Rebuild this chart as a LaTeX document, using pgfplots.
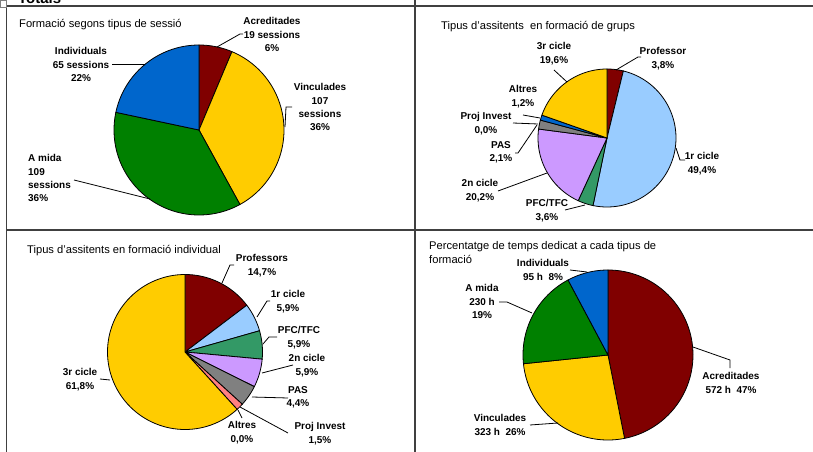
\documentclass[border=0pt]{standalone}
\usepackage{pgfplots}
\pgfplotsset{compat=1.18}
\usepackage{fontspec}
\setmainfont{Liberation Sans}

\definecolor{cRed}{HTML}{800000}
\definecolor{cYel}{HTML}{FFCC00}
\definecolor{cGrn}{HTML}{008000}
\definecolor{cBlu}{HTML}{0066CC}
\definecolor{cLBl}{HTML}{99CCFF}
\definecolor{cSea}{HTML}{339966}
\definecolor{cLav}{HTML}{CC99FF}
\definecolor{cGry}{HTML}{808080}
\definecolor{cSal}{HTML}{FF8080}
\definecolor{frame}{HTML}{404040}

% slices clockwise from 12 o'clock; #1 = total, #2 = value/colour list
\newcommand\pieslices[2]{%
  \xdef\pcum{0}%
  \foreach \v/\c in {#2} {%
    \ifdim\v pt>0pt
      \pgfmathsetmacro\lo{90-(\pcum+\v)/#1*360}%
      \pgfmathsetmacro\hi{90-\pcum/#1*360}%
      \edef\temp{\noexpand\addplot[fill=\c, draw=black, line width=0.8bp,
        domain=\lo:\hi, samples=80, variable=\noexpand\t]
        ({cos(\noexpand\t)},{sin(\noexpand\t)}) -- (axis cs:0,0) -- cycle;}%
      \temp
    \fi
    \pgfmathsetmacro\tmp{\pcum+\v}\xdef\pcum{\tmp}%
  }%
}

\pgfplotsset{pie/.style={hide axis, clip=false, scale only axis,
  xmin=-1, xmax=1, ymin=-1, ymax=1, anchor=center}}

\begin{document}
\begin{tikzpicture}
\path[use as bounding box] (0,0) rectangle (813bp,-452bp);
\fill[white] (0,0) rectangle (813bp,-452bp);
\clip (0,0) rectangle (813bp,-452bp);

% Formacio segons tipus de sessio (sessions)
\begin{axis}[pie, width=170bp, height=170bp, at={(199bp,-130bp)}]
\pieslices{300}{19/cRed, 107/cYel, 109/cGrn, 65/cBlu}
\end{axis}

% Tipus d'assitents en formacio de grups (%)
\begin{axis}[pie, width=138bp, height=138bp, at={(607bp,-138bp)}]
\pieslices{99.9}{3.8/cRed, 49.4/cLBl, 3.6/cSea, 20.2/cLav, 2.1/cGry, 0.0/cSal, 1.2/cBlu, 19.6/cYel}
\end{axis}

% Tipus d'assitents en formacio individual (%)
\begin{axis}[pie, width=155bp, height=155bp, at={(185bp,-352bp)}]
\pieslices{100.1}{14.7/cRed, 5.9/cLBl, 5.9/cSea, 5.9/cLav, 4.4/cGry, 1.5/cSal, 0.0/cBlu, 61.8/cYel}
\end{axis}

% Percentatge de temps (hores)
\begin{axis}[pie, width=170bp, height=170bp, at={(608bp,-355bp)}]
\pieslices{1220}{572/cRed, 323/cYel, 230/cGrn, 95/cBlu}
\end{axis}

\begin{scope}[x=1bp, y=-1bp,
  lab/.style={font=\fontsize{10}{13.4}\selectfont\bfseries, align=center, anchor=north, inner sep=0pt},
  ttl/.style={font=\fontsize{11.2}{14}\selectfont, anchor=base west, inner sep=0pt},
  ld/.style={line width=0.8bp, black}]

% frame
\draw[frame, line width=1.6bp] (6,6) -- (813,6) (6,230) -- (813,230)
  (6.5,6) -- (6.5,452) (415,0) -- (415,452);
\draw[gray, line width=0.8bp] (0.5,0.5) rectangle (6,7);
\node[anchor=base west, inner sep=0pt, font=\fontsize{15}{17}\selectfont\bfseries] at (18,3) {Totals};

% panel 1
\node[ttl] at (19,27) {Formació segons tipus de sessió};
\node[lab] at (272,17.4) {Acreditades\\19 sessions\\6\%};
\node[lab] at (320,83.4) {Vinculades\\107\\sessions\\36\%};
\node[lab] at (81,47.4) {Individuals\\65 sessions\\22\%};
\node[lab, anchor=north west, align=left] at (28,154.4) {A mida\\109\\sessions\\36\%};
\draw[ld] (217,47) -- (240,34) -- (243,34);
\draw[ld] (285,127) -- (286,107) -- (292,107);
\draw[ld] (112,64) -- (145,64);
\draw[ld] (74,180) -- (150,199);

% panel 2
\node[ttl] at (441,29) {Tipus d'assitents\ \ en formació de grups};
\node[lab] at (663,47.4) {Professor\\3,8\%};
\node[lab] at (702,152.4) {1r cicle\\49,4\%};
\node[lab] at (547,199.4) {PFC/TFC\\3,6\%};
\node[lab] at (480,179.4) {2n cicle\\20,2\%};
\node[lab] at (501,141.4) {PAS\\2,1\%};
\node[lab] at (486,112.4) {Proj Invest\\0,0\%};
\node[lab] at (523,85.4) {Altres\\1,2\%};
\node[lab] at (554,42.4) {3r cicle\\19,6\%};
\draw[ld] (616,70) -- (638,57) -- (641,57);
\draw[ld] (676,148) -- (680,160) -- (685,160);
\draw[ld] (565,210) -- (585,205);
\draw[ld] (498,191) -- (547,173);
\draw[ld] (515,153) -- (518,153) -- (537,125);
\draw[ld] (513,123) -- (538,124);
\draw[ld] (523,115) -- (540,118);
\draw[ld] (554,70) -- (567,82);

% panel 3
\node[ttl] at (27,253) {Tipus d'assitents en formació individual};
\node[lab] at (262,254.4) {Professors\\14,7\%};
\node[lab] at (288,290.4) {1r cicle\\5,9\%};
\node[lab] at (299,326.4) {PFC/TFC\\5,9\%};
\node[lab] at (307,354.4) {2n cicle\\5,9\%};
\node[lab] at (298,386.4) {PAS\\4,4\%};
\node[lab] at (320,422.4) {Proj Invest\\1,5\%};
\node[lab] at (242,421.4) {Altres\\0,0\%};
\node[lab] at (80,368.4) {3r cicle\\61,8\%};
\draw[ld] (222,283) -- (230,265) -- (234,265);
\draw[ld] (257,317) -- (267,301) -- (270,301);
\draw[ld] (263,344) -- (269,337) -- (277,337);
\draw[ld] (262,373) -- (293,365);
\draw[ld] (252,397) -- (288,398);
\draw[ld] (240,407) -- (288,433);
\draw[ld] (238,410) -- (242,418);
\draw[ld] (100,379) -- (110,380);

% panel 4
\node[ttl, anchor=north west, align=left] at (429,240.8) {Percentatge de temps dedicat a cada tipus de\\formació};
\node[lab] at (543,259.4) {Individuals\\95 h\ \ 8\%};
\node[lab] at (482,284.4) {A mida\\230 h\\19\%};
\node[lab] at (731,372.4) {Acreditades\\572 h\ \ 47\%};
\node[lab] at (500,414.4) {Vinculades\\323 h\ \ 26\%};
\draw[ld] (570,270) -- (587,272);
\draw[ld] (499,302) -- (507,302) -- (532,313);
\draw[ld] (693,347) -- (730,360) -- (730,368);
\draw[ld] (530,425) -- (558,423);
\end{scope}
\end{tikzpicture}
\end{document}
